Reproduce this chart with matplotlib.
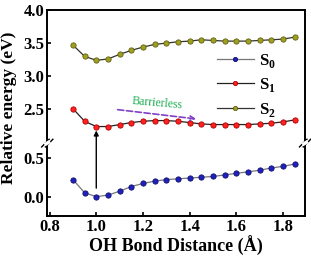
import matplotlib
matplotlib.use('Agg')
import matplotlib.pyplot as plt
import numpy as np

plt.rcParams['font.family'] = 'Liberation Serif'
plt.rcParams['font.weight'] = 'bold'
plt.rcParams['axes.labelweight'] = 'bold'
plt.rcParams['mathtext.fontset'] = 'custom'
plt.rcParams['mathtext.rm'] = 'Liberation Serif:bold'

#=======================================================
dist = [0.90, 0.95, 1.00, 1.05, 1.10, 1.15, 1.20, 1.25, 1.30, 1.35,
        1.40, 1.45, 1.50, 1.55, 1.60, 1.65, 1.70, 1.75, 1.80, 1.85]
s0 = [0.22, 0.05, 0.00, 0.02, 0.07, 0.13, 0.17, 0.20, 0.22, 0.23,
      0.24, 0.25, 0.26, 0.28, 0.30, 0.32, 0.34, 0.37, 0.39, 0.42]
s1 = [2.51, 2.32, 2.24, 2.24, 2.27, 2.30, 2.32, 2.33, 2.33, 2.32,
      2.30, 2.28, 2.27, 2.27, 2.27, 2.27, 2.28, 2.29, 2.31, 2.34]
s2 = [3.47, 3.30, 3.24, 3.26, 3.33, 3.39, 3.44, 3.48, 3.50, 3.52,
      3.53, 3.55, 3.54, 3.53, 3.53, 3.53, 3.54, 3.55, 3.56, 3.59]
labels = ['S$_0$', 'S$_1$', 'S$_2$']
upper_ticks = [2.5, 3.0, 3.5, 4.0]
lower_ticks = [0.0, 0.5]
x_ticks = [0.8, 1.0, 1.2, 1.4, 1.6, 1.8]

#=======================================================
fig = plt.figure(figsize=(3.11, 2.56), dpi=100)
L, R = 0.152, 0.981
ytop, ybrk, ybot = 0.961, 0.441, 0.156
axU = fig.add_axes([L, ybrk, R - L, ytop - ybrk])
axL = fig.add_axes([L, ybot, R - L, ybrk - ybot])
axL.patch.set_visible(False)

xlim = (0.79, 1.895)
for ax in (axU, axL):
    ax.set_xlim(*xlim)
    ax.tick_params(direction='in', width=1.2, length=3, labelsize=12, pad=2)
    for sp in ax.spines.values():
        sp.set_linewidth(1.4)

axU.set_ylim(1.99, 4.0)
axL.set_ylim(-0.25, 0.69)
axU.spines['bottom'].set_visible(False)
axL.spines['top'].set_visible(False)
axU.tick_params(bottom=False, labelbottom=False)
axU.set_yticks(upper_ticks)
axU.set_yticklabels([f'{v:.1f}' for v in upper_ticks])
axL.set_yticks(lower_ticks)
axL.set_yticklabels([f'{v:.1f}' for v in lower_ticks])
axL.set_xticks(x_ticks)
axL.set_xticklabels([f'{v:.1f}' for v in x_ticks])

mk = dict(marker='o', markersize=3.8, markeredgewidth=0.6)
l0, = axL.plot(dist, s0, color='#777777', lw=0.9, markerfacecolor='#2020c0',
               markeredgecolor='#10106a', label=labels[0], **mk)
l1, = axU.plot(dist, s1, color='#222222', lw=0.9, markerfacecolor='#ff2020',
               markeredgecolor='#b00000', label=labels[1], **mk)
l2, = axU.plot(dist, s2, color='#333333', lw=0.9, markerfacecolor='#a0a020',
               markeredgecolor='#606010', label=labels[2], **mk)

axU.legend(handles=[l0, l1, l2], loc='upper left', bbox_to_anchor=(0.6, 0.8),
           frameon=False, fontsize=12, handlelength=2.2, labelspacing=0.4,
           handletextpad=0.3, markerscale=0.8)

# break marks
for x in (0.0, 1.0):
    for dx in (-0.006, 0.006):
        fig.add_artist(plt.Line2D([L + (R - L) * x + dx - 0.012, L + (R - L) * x + dx + 0.012],
                                  [ybrk - 0.015, ybrk + 0.015], color='k', lw=1.0,
                                  transform=fig.transFigure))
    fig.add_artist(plt.Line2D([L + (R - L) * x - 0.004, L + (R - L) * x + 0.004],
                              [ybrk - 0.003, ybrk + 0.003], color='white', lw=2.5,
                              transform=fig.transFigure))

# excitation arrow
axL.annotate('', xy=(1.0, 2.18), xycoords=axU.transData,
             xytext=(1.0, 0.11), textcoords=axL.transData,
             arrowprops=dict(arrowstyle='-|>', color='k', lw=1.0,
                             mutation_scale=7, shrinkA=0, shrinkB=0),
             annotation_clip=False)

# barrierless arrow
axU.annotate('', xy=(1.44, 2.35), xytext=(1.08, 2.50),
             arrowprops=dict(arrowstyle='->', color='#8040c8', lw=1.2,
                             linestyle='--', mutation_scale=8))
axU.text(1.26, 2.59, 'Barrierless', color='#1fae55', fontsize=8.5,
         fontweight='normal', rotation=-5, ha='center', va='center')

fig.text(0.03, (ybot + ytop) / 2 + 0.02, 'Relative energy (eV)', rotation=90,
         ha='center', va='center', fontsize=12.5)
axL.set_xlabel('OH Bond Distance (Å)', fontsize=13, labelpad=1)

fig.savefig('out.png', dpi=100)
